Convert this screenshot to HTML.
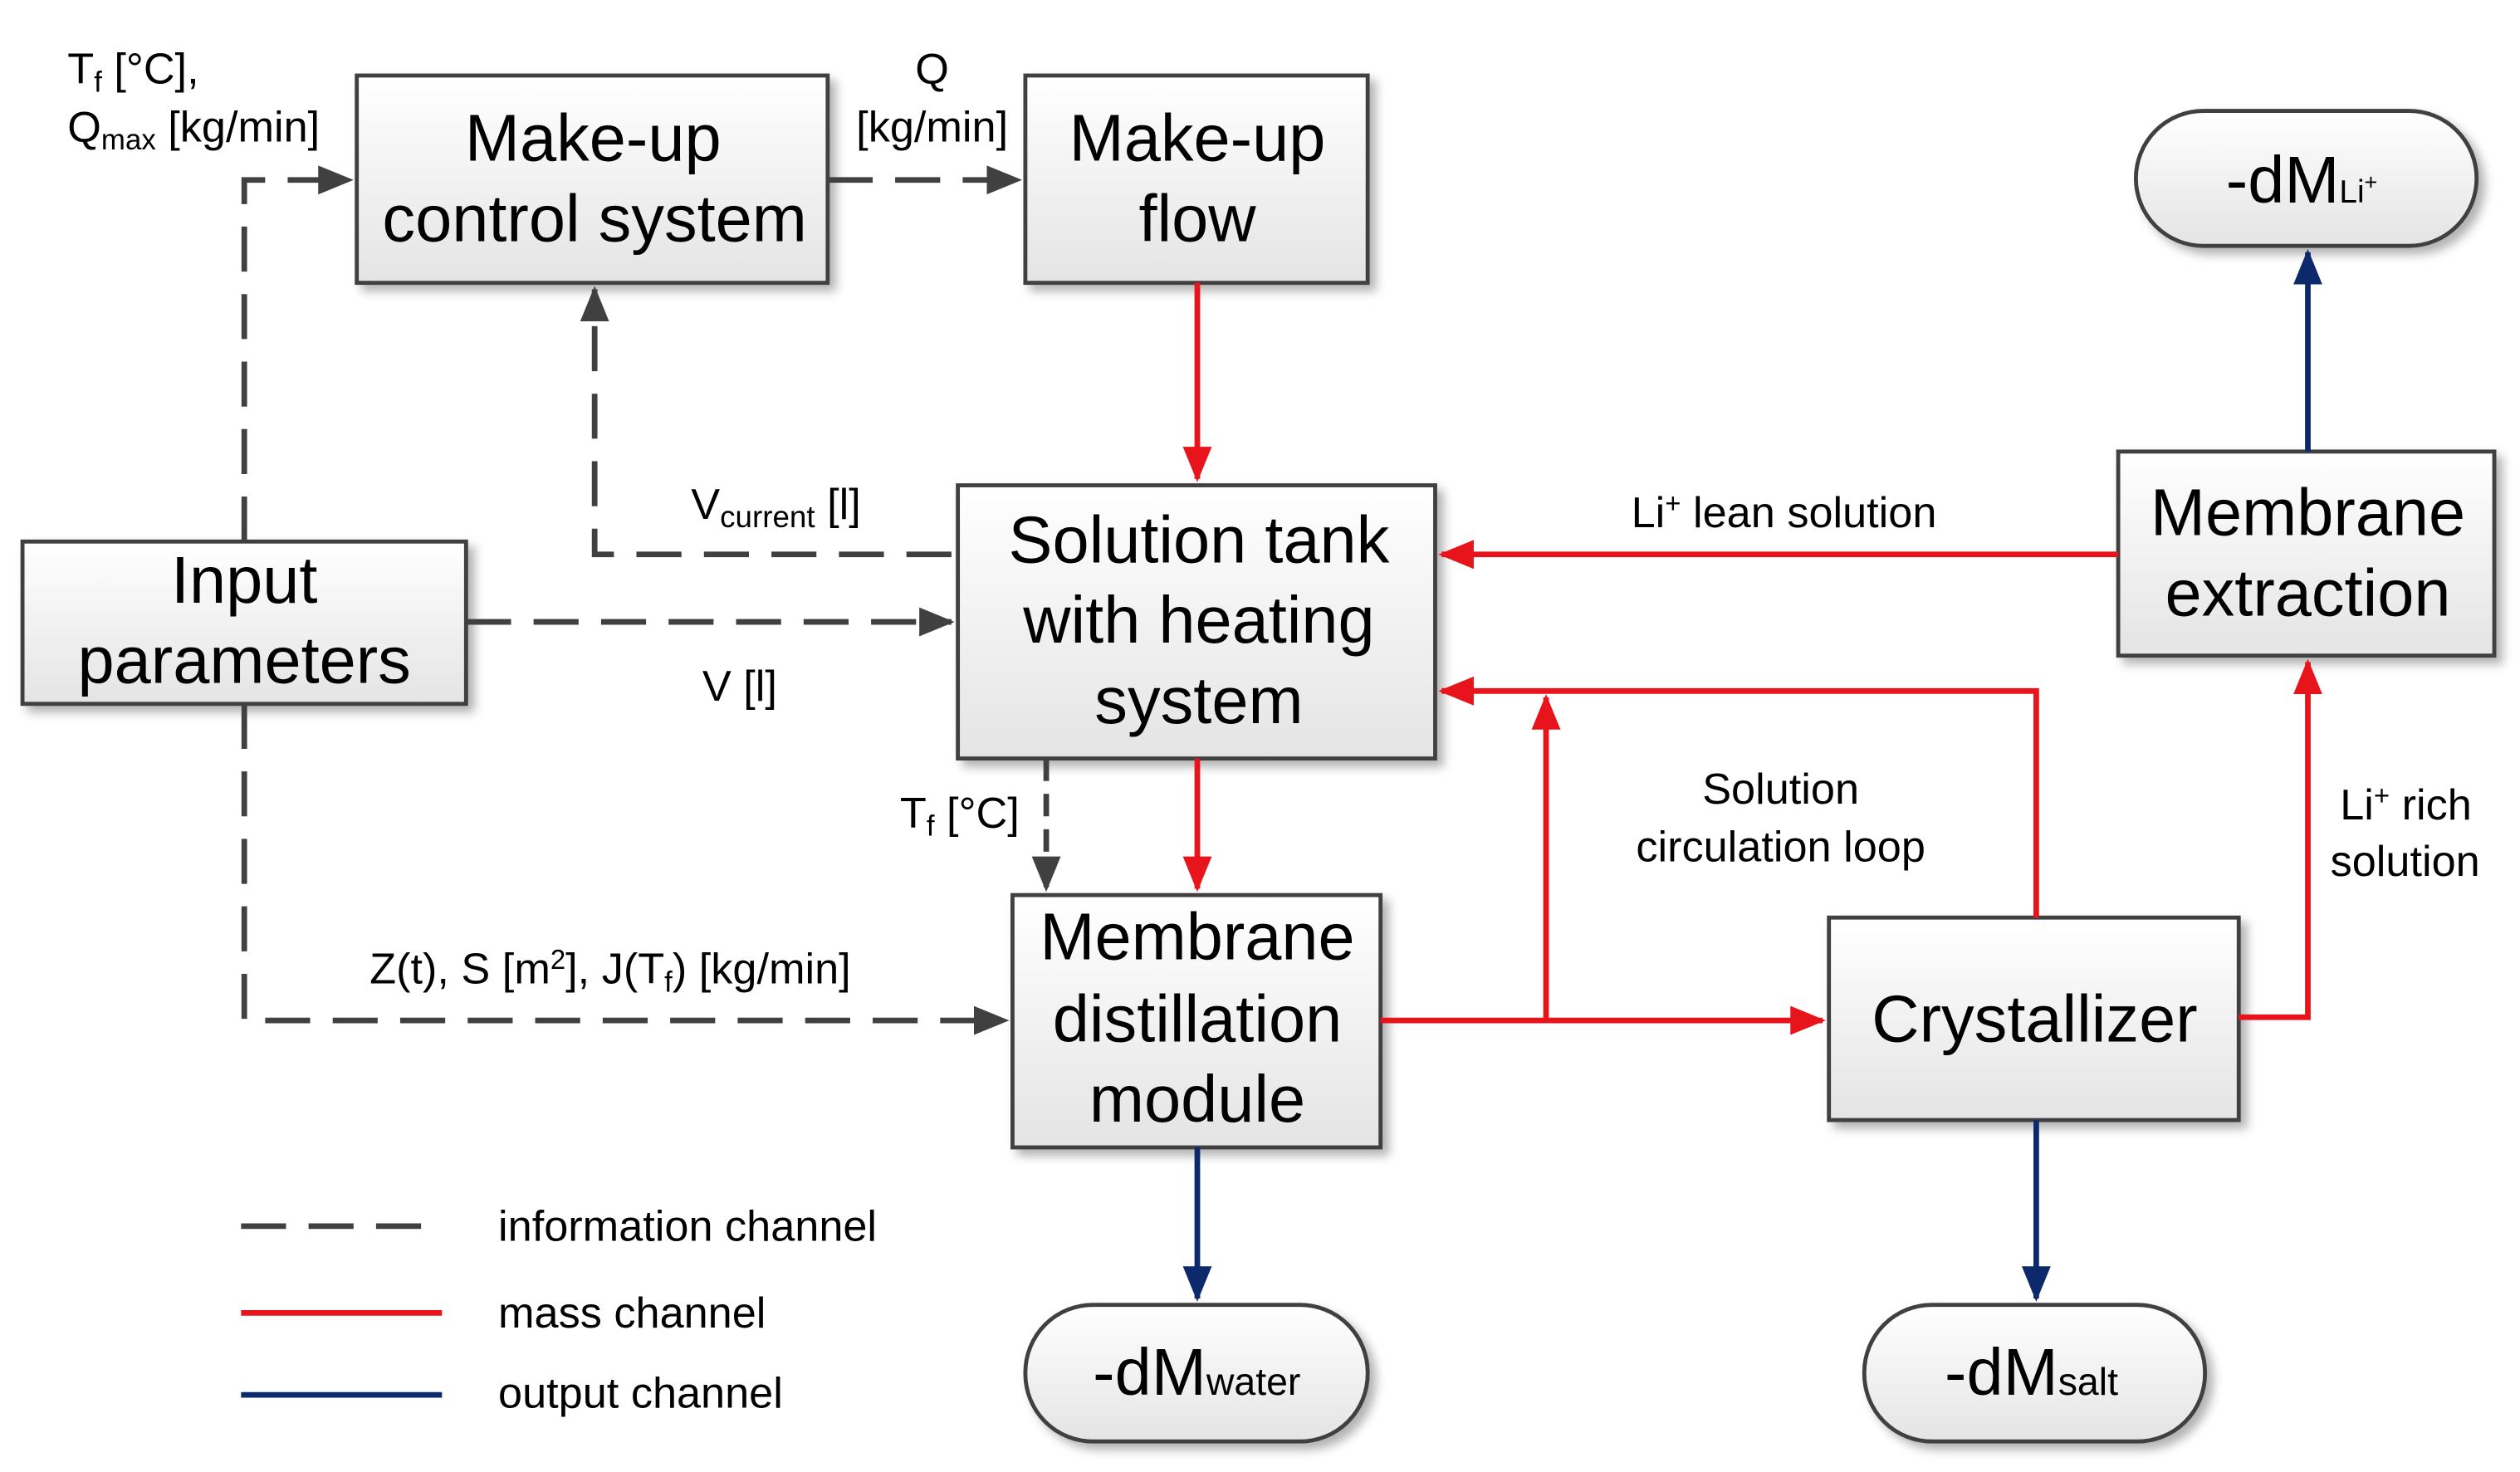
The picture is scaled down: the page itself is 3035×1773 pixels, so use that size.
<!DOCTYPE html>
<html><head><meta charset="utf-8"><style>
html,body{margin:0;padding:0;background:#fff;}
svg{display:block;}
text{font-family:"Liberation Sans",Arial,sans-serif;fill:#000;}
</style></head><body>
<svg width="3035" height="1773" viewBox="0 0 1568 916" preserveAspectRatio="none" xmlns="http://www.w3.org/2000/svg">
<defs>
<linearGradient id="g" x1="0" y1="0" x2="0" y2="1"><stop offset="0" stop-color="#ffffff"/><stop offset="1" stop-color="#e4e4e4"/></linearGradient>
<marker id="ar" markerWidth="22" markerHeight="22" refX="20" refY="11" orient="auto" markerUnits="userSpaceOnUse"><path d="M0,2 L22,11 L0,20 z" fill="#e8141b"/></marker>
<marker id="ab" markerWidth="22" markerHeight="22" refX="20" refY="11" orient="auto" markerUnits="userSpaceOnUse"><path d="M0,2 L22,11 L0,20 z" fill="#0c2a6b"/></marker>
<marker id="ad" markerWidth="22" markerHeight="22" refX="20" refY="11" orient="auto" markerUnits="userSpaceOnUse"><path d="M0,2 L22,11 L0,20 z" fill="#404040"/></marker>
<filter id="sh" x="-10%" y="-10%" width="130%" height="130%"><feDropShadow dx="4" dy="4" stdDeviation="3" flood-color="#000" flood-opacity="0.3"/></filter>
</defs>

<g stroke="#404040" stroke-width="2.5" fill="url(#g)" filter="url(#sh)">
<rect x="222" y="47" width="293" height="129"/>
<rect x="638" y="47" width="213" height="129"/>
<rect x="596" y="302" width="297" height="170"/>
<rect x="14" y="337" width="276" height="101"/>
<rect x="1318" y="281" width="234" height="127"/>
<rect x="630" y="557" width="229" height="157"/>
<rect x="1138" y="571" width="255" height="126"/>
<rect x="1329" y="69" width="212" height="84" rx="42"/>
<rect x="638" y="812" width="213" height="85" rx="42"/>
<rect x="1160" y="812" width="212" height="85" rx="42"/>
</g>

<g font-size="41" text-anchor="middle">
<text x="369" y="100">Make-up</text>
<text x="370" y="150">control system</text>
<text x="745" y="100">Make-up</text>
<text x="745" y="150">flow</text>
<text x="746" y="350">Solution tank</text>
<text x="746" y="400">with heating</text>
<text x="746" y="450">system</text>
<text x="152" y="375">Input</text>
<text x="152" y="425">parameters</text>
<text x="1436" y="333">Membrane</text>
<text x="1436" y="383">extraction</text>
<text x="745" y="597">Membrane</text>
<text x="745" y="648">distillation</text>
<text x="745" y="698">module</text>
<text x="1266" y="648">Crystallizer</text>
</g>
<g font-size="41">
<text x="1385" y="126">-dM<tspan font-size="20">Li</tspan><tspan font-size="14" dy="-8">+</tspan></text>
<text x="680" y="868">-dM<tspan font-size="24">water</tspan></text>
<text x="1210" y="868">-dM<tspan font-size="24">salt</tspan></text>
</g>

<g stroke="#404040" stroke-width="3.5" fill="none" stroke-dasharray="28,14">
<path d="M152,337 V112 H218" marker-end="url(#ad)"/>
<path d="M515,112 H634" marker-end="url(#ad)"/>
<path d="M592,345 H370 V180" marker-end="url(#ad)"/>
<path d="M290,387 H592" marker-end="url(#ad)"/>
<path d="M152,438 V635 H626" marker-end="url(#ad)"/>
<path d="M651,472 V553" stroke-dasharray="14,8" marker-end="url(#ad)"/>
<path d="M150,763 H275"/>
</g>

<g stroke="#e8141b" stroke-width="3.5" fill="none">
<path d="M745,176 V298" marker-end="url(#ar)"/>
<path d="M745,472 V553" marker-end="url(#ar)"/>
<path d="M1318,345 H897" marker-end="url(#ar)"/>
<path d="M859,635 H1134" marker-end="url(#ar)"/>
<path d="M962,635 V434" marker-end="url(#ar)"/>
<path d="M1267,571 V430 H897" marker-end="url(#ar)"/>
<path d="M1393,633 H1436 V412" marker-end="url(#ar)"/>
<path d="M150,817 H275"/>
</g>

<g stroke="#0c2a6b" stroke-width="3.5" fill="none">
<path d="M1436,281 V157" marker-end="url(#ab)"/>
<path d="M745,714 V808" marker-end="url(#ab)"/>
<path d="M1267,697 V808" marker-end="url(#ab)"/>
<path d="M150,868 H275"/>
</g>

<g font-size="27">
<text x="42" y="52">T<tspan font-size="18" dy="5">f</tspan><tspan dy="-5"> [°C],</tspan></text>
<text x="42" y="88">Q<tspan font-size="18" dy="5">max</tspan><tspan dy="-5"> [kg/min]</tspan></text>
<text x="580" y="52" text-anchor="middle">Q</text>
<text x="580" y="88" text-anchor="middle">[kg/min]</text>
<text x="430" y="323">V<tspan font-size="19" dy="5">current</tspan><tspan dy="-5"> [l]</tspan></text>
<text x="437" y="436">V [l]</text>
<text x="560" y="515">T<tspan font-size="18" dy="5">f</tspan><tspan dy="-5"> [°C]</tspan></text>
<text x="230" y="612">Z(t), S [m<tspan font-size="17" dy="-9">2</tspan><tspan dy="9">], J(T</tspan><tspan font-size="18" dy="5">f</tspan><tspan dy="-5">) [kg/min]</tspan></text>
<text x="1015" y="328">Li<tspan font-size="17" dy="-9">+</tspan><tspan dy="9"> lean solution</tspan></text>
<text x="1108" y="500" text-anchor="middle">Solution</text>
<text x="1108" y="536" text-anchor="middle">circulation loop</text>
<text x="1456" y="510">Li<tspan font-size="17" dy="-9">+</tspan><tspan dy="9"> rich</tspan></text>
<text x="1450" y="545">solution</text>
<text x="310" y="772">information channel</text>
<text x="310" y="826">mass channel</text>
<text x="310" y="876">output channel</text>
</g>
</svg>
</body></html>
